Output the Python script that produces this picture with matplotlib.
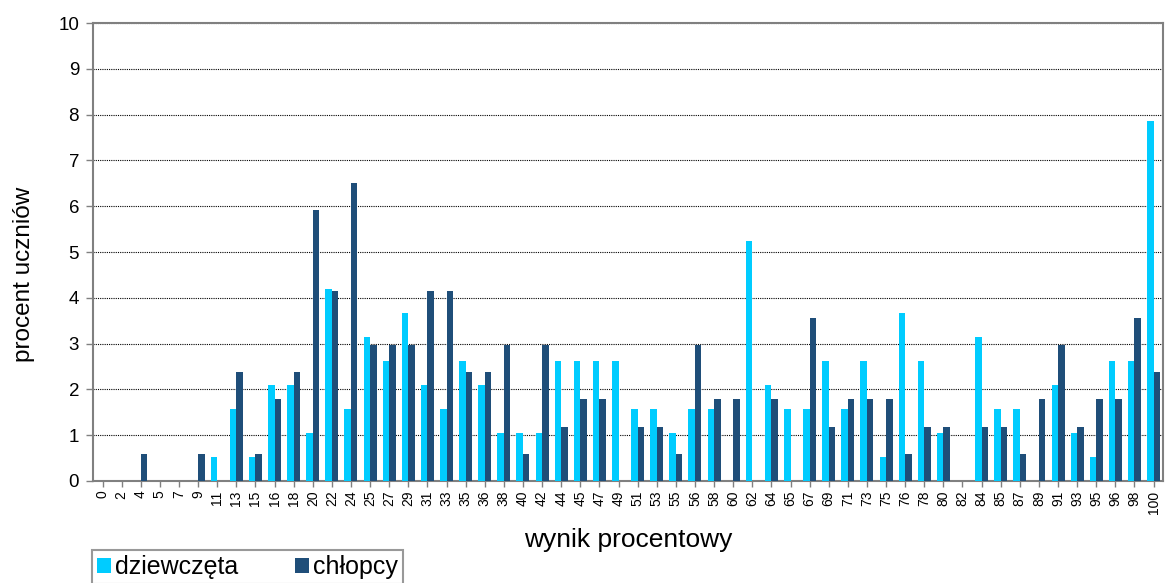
import matplotlib.pyplot as plt
import numpy as np

plt.rcParams['font.family'] = ['Liberation Sans', 'DejaVu Sans']

# wynik procentowy (kategorie)
wyniki = ['0', '2', '4', '5', '7', '9', '11', '13', '15', '16', '18', '20', '22', '24',
          '25', '27', '29', '31', '33', '35', '36', '38', '40', '42', '44', '45', '47', '49',
          '51', '53', '55', '56', '58', '60', '62', '64', '65', '67', '69', '71', '73', '75',
          '76', '78', '80', '82', '84', '85', '87', '89', '91', '93', '95', '96', '98', '100']

# procent uczniów
dziewczeta = [0, 0, 0, 0, 0, 0, 0.52, 1.57, 0.52, 2.09, 2.09, 1.05, 4.19, 1.57,
              3.14, 2.62, 3.66, 2.09, 1.57, 2.62, 2.09, 1.05, 1.05, 1.05, 2.62, 2.62, 2.62, 2.62,
              1.57, 1.57, 1.05, 1.57, 1.57, 0, 5.24, 2.09, 1.57, 1.57, 2.62, 1.57, 2.62, 0.52,
              3.66, 2.62, 1.05, 0, 3.14, 1.57, 1.57, 0, 2.09, 1.05, 0.52, 2.62, 2.62, 7.85]
chlopcy = [0, 0, 0.59, 0, 0, 0.59, 0, 2.37, 0.59, 1.78, 2.37, 5.92, 4.14, 6.51,
           2.96, 2.96, 2.96, 4.14, 4.14, 2.37, 2.37, 2.96, 0.59, 2.96, 1.18, 1.78, 1.78, 0,
           1.18, 1.18, 0.59, 2.96, 1.78, 1.78, 0, 1.78, 0, 3.55, 1.18, 1.78, 1.78, 1.78,
           0.59, 1.18, 1.18, 0, 1.18, 1.18, 0.59, 1.78, 2.96, 1.18, 1.78, 1.78, 3.55, 2.37]

fig = plt.figure(figsize=(11.67, 5.83), dpi=100)
ax = fig.add_axes([0.0797, 0.175, 0.917, 0.7855])

x = np.arange(len(wyniki))
w = 0.34
ax.bar(x - w / 2, dziewczeta, w, color='#00CCFF', label='dziewczęta', zorder=3)
ax.bar(x + w / 2, chlopcy, w, color='#1F4E79', label='chłopcy', zorder=3)

ax.set_xlim(-0.5, len(wyniki) - 0.5)
ax.set_ylim(0, 10)
ax.set_yticks(range(0, 11))
ax.set_xticks(x)
ax.set_xticklabels(wyniki, rotation=90, fontsize=10)
ax.tick_params(axis='y', labelsize=13.5, color='#808080', length=5, width=1, pad=5)
ax.tick_params(axis='x', color='#808080', length=4, width=1, pad=3)

# linie siatki kropkowane
ax.yaxis.grid(True, linestyle=(0, (1, 1)), color='black', linewidth=0.8, zorder=0)
ax.set_axisbelow(True)
for s in ax.spines.values():
    s.set_color('#808080')
    s.set_linewidth(1.5)

ax.set_ylabel('procent uczniów', fontsize=17.5)
ax.yaxis.set_label_coords(-0.054, 0.452)
ax.set_xlabel('wynik procentowy', fontsize=19, labelpad=10)

leg = fig.legend(loc='upper left', bbox_to_anchor=(0.079, 0.056), ncol=2,
                 fontsize=18, frameon=True, fancybox=False, edgecolor='#808080',
                 handlelength=0.55, handleheight=0.55, handletextpad=0.15,
                 columnspacing=2.3, borderpad=0.2, borderaxespad=0)
leg.get_frame().set_linewidth(1.5)

fig.savefig('out.png', dpi=100)
